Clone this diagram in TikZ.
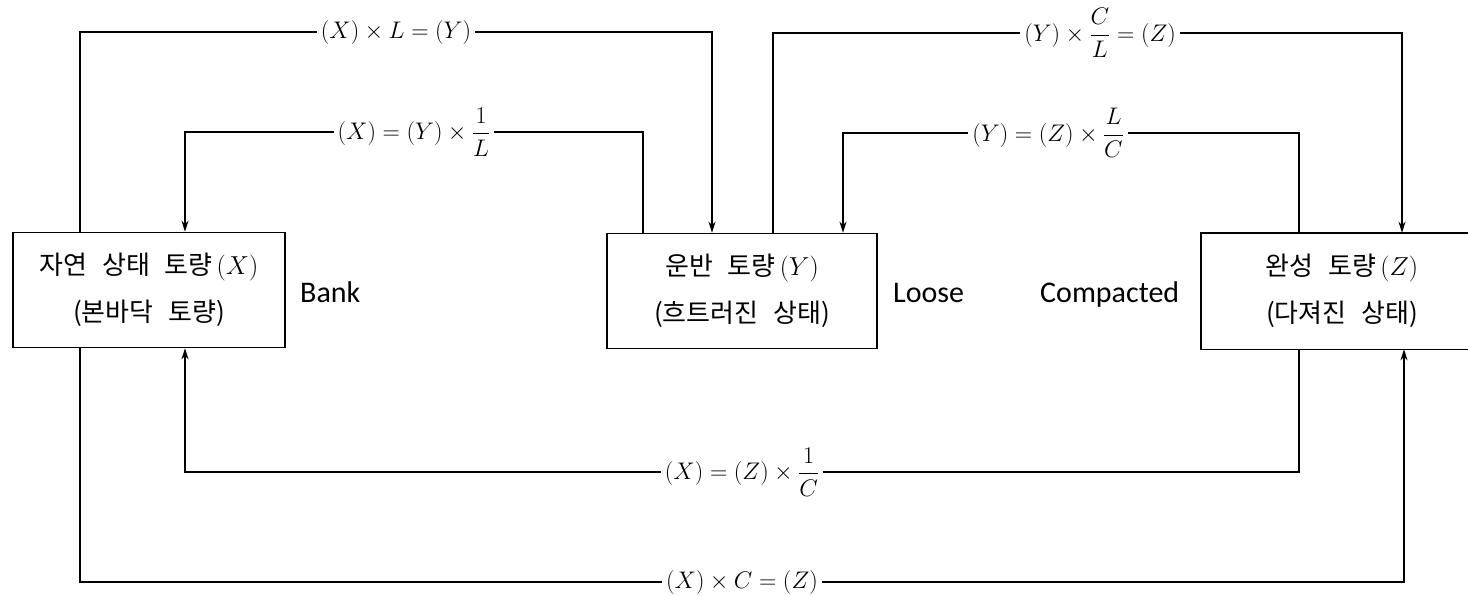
\RequirePackage{fix-cm}
\documentclass[tikz,border=0pt]{standalone}
\usepackage{amsmath}
\usepackage{fontspec}
\newfontfamily\kofont{Noto Sans CJK KR}[WordSpace=2.5]
\newfontfamily\enfont{Carlito}
\usetikzlibrary{arrows.meta}

\begin{document}
\begin{tikzpicture}[x=1pt, y=-1pt,
  box/.style={draw, line width=1.6pt, minimum width=272pt, minimum height=115pt,
              inner sep=0, align=center, font=\kofont\fontsize{26}{47}\selectfont},
  lab/.style={fill=white, inner sep=4pt, font=\fontsize{24}{28}\selectfont},
  note/.style={anchor=base west, inner sep=0, font=\enfont\fontsize{30}{36}\selectfont},
  arr/.style={line width=1.2pt, -{Stealth[length=11pt, width=7pt]}}]
\useasboundingbox (0,0) rectangle (1468,595);
\node[box] (X) at (149,290) {자연 상태 토량\,$(X)$\\(본바닥 토량)};
\node[box, minimum width=270pt] (Y) at (742,291) {운반 토량\,$(Y)$\\(흐트러진 상태)};
\node[box, draw=none, minimum width=280pt] (Z) at (1342,291) {완성 토량\,$(Z)$\\(다져진 상태)};
\draw[line width=1.6pt] (Z.north east) -- (Z.north west) -- (Z.south west) -- (Z.south east);
\node[note] (bank) at (300,302) {Bank};
\node[note] (loose) at (893,302) {Loose};
\node[note] (comp) at (1040,302) {Compacted};
\coordinate (tl1) at (80,32);   \coordinate (tl2) at (712,32);
\coordinate (il1) at (643,132); \coordinate (il2) at (185,132);
\coordinate (tr1) at (773,33);  \coordinate (tr2) at (1402,33);
\coordinate (ir1) at (1299,133); \coordinate (ir2) at (843,133);
\coordinate (bi1) at (1299,472); \coordinate (bi2) at (185,472);
\coordinate (bo1) at (80,582);  \coordinate (bo2) at (1404,582);
\draw[arr] (X.north -| tl1) -- (tl1) -- node[lab] {$(X)\times L=(Y)$} (tl2) -- (Y.north -| tl2);
\draw[arr] (Y.north -| il1) -- (il1) -- node[lab] {$(X)=(Y)\times\dfrac{1}{L}$} (il2) -- (X.north -| il2);
\draw[arr] (Y.north -| tr1) -- (tr1) -- node[lab, pos=0.52] {$(Y)\times\dfrac{C}{L}=(Z)$} (tr2) -- (Z.north -| tr2);
\draw[arr] (Z.north -| ir1) -- (ir1) -- node[lab, pos=0.55] {$(Y)=(Z)\times\dfrac{L}{C}$} (ir2) -- (Y.north -| ir2);
\draw[arr] (Z.south -| bi1) -- (bi1) -- node[lab] {$(X)=(Z)\times\dfrac{1}{C}$} (bi2) -- (X.south -| bi2);
\draw[arr] (X.south -| bo1) -- (bo1) -- node[lab] {$(X)\times C=(Z)$} (bo2) -- (Z.south -| bo2);
\end{tikzpicture}
\end{document}
